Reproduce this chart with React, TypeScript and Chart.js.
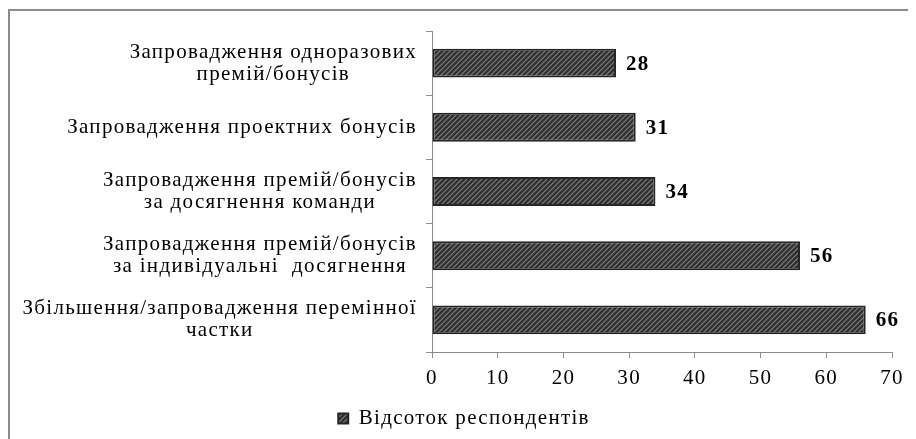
import React, { useEffect, useRef } from "react";
import { Chart, registerables } from "chart.js";

Chart.register(...registerables);

const categoryLines: string[][] = [
  ["Запровадження одноразових", "премій/бонусів"],
  ["Запровадження проектних бонусів"],
  ["Запровадження премій/бонусів", "за досягнення команди"],
  ["Запровадження премій/бонусів", "за індивідуальні  досягнення"],
  ["Збільшення/запровадження перемінної", "частки"],
];
const values: number[] = [28, 31, 34, 56, 66];
const seriesName = "Відсоток респондентів";
const xTicks: number[] = [0, 10, 20, 30, 40, 50, 60, 70];

const FONT = "'Liberation Serif', 'Times New Roman', serif";
const SPACING = "1.3px";
const FS = 21;

function makePattern(): CanvasPattern | string {
  const s = 5;
  const c = document.createElement("canvas");
  c.width = s;
  c.height = s;
  const g = c.getContext("2d");
  if (!g) return "#444";
  g.fillStyle = "#303030";
  g.fillRect(0, 0, s, s);
  g.strokeStyle = "#7e7e7e";
  g.lineWidth = 1.2;
  g.beginPath();
  g.moveTo(-1, s + 1);
  g.lineTo(s + 1, -1);
  g.moveTo(-1, 1);
  g.lineTo(1, -1);
  g.moveTo(s - 1, s + 1);
  g.lineTo(s + 1, s - 1);
  g.stroke();
  const p = g.createPattern(c, "repeat");
  return p || "#444";
}

const spacingPlugin = {
  id: "spacing",
  beforeInit(chart: any) {
    chart.ctx.letterSpacing = SPACING;
  },
  beforeLayout(chart: any) {
    chart.ctx.letterSpacing = SPACING;
  },
  beforeDraw(chart: any) {
    chart.ctx.letterSpacing = SPACING;
  },
};

const labelsPlugin = {
  id: "customLabels",
  afterDraw(chart: any) {
    const ctx = chart.ctx;
    const yScale = chart.scales.y;
    ctx.save();
    ctx.letterSpacing = SPACING;
    ctx.fillStyle = "#000";
    ctx.font = `${FS}px ${FONT}`;
    ctx.textBaseline = "middle";
    ctx.textAlign = "center";
    const lineH = 22;
    const rightEdge = yScale.right - 15;
    categoryLines.forEach((lines, i) => {
      const y = yScale.getPixelForTick(i);
      const w = Math.max(...lines.map((l) => ctx.measureText(l).width));
      const cx = rightEdge - w / 2;
      const y0 = y - ((lines.length - 1) * lineH) / 2;
      lines.forEach((l, j) => ctx.fillText(l, cx, y0 + j * lineH));
    });
    ctx.font = `bold ${FS}px ${FONT}`;
    ctx.textAlign = "left";
    const meta = chart.getDatasetMeta(0);
    meta.data.forEach((bar: any, i: number) => {
      ctx.fillText(String(values[i]), bar.x + 10, bar.y + 1);
    });
    ctx.restore();
  },
};

export default function App() {
  const ref = useRef<HTMLCanvasElement | null>(null);
  useEffect(() => {
    document.body.style.overflow = "hidden";
    if (!ref.current) return;
    const pattern = makePattern();
    const chart = new Chart(ref.current, {
      type: "bar",
      data: {
        labels: categoryLines.map((l) => l.join(" ")),
        datasets: [
          {
            label: seriesName,
            data: values,
            backgroundColor: pattern as any,
            borderColor: "#262626",
            borderWidth: 2,
            borderSkipped: false,
            barPercentage: 0.9,
            categoryPercentage: 0.5,
          },
        ],
      },
      options: {
        indexAxis: "y",
        animation: false,
        responsive: false,
        maintainAspectRatio: false,
        layout: { padding: { top: 20, right: 24, left: 26, bottom: 0 } },
        scales: {
          x: {
            min: 0,
            max: 70,
            afterBuildTicks(scale: any) {
              scale.ticks = xTicks.map((v) => ({ value: v }));
            },
            grid: {
              drawOnChartArea: false,
              drawTicks: true,
              tickLength: 6,
              color: "#8c8c8c",
            },
            border: { color: "#8c8c8c", width: 1 },
            ticks: {
              color: "#000",
              font: { family: FONT, size: FS, lineHeight: 1.0 },
              padding: 10,
            },
          },
          y: {
            afterFit(scale: any) {
              scale.width = 396;
            },
            grid: {
              drawOnChartArea: false,
              drawTicks: true,
              tickLength: 6,
              color: "#8c8c8c",
              offset: true,
            },
            border: { color: "#8c8c8c", width: 1 },
            ticks: { display: false },
          },
        },
        plugins: {
          legend: {
            position: "bottom",
            labels: {
              color: "#000",
              font: { family: FONT, size: FS },
              boxWidth: 10,
              boxHeight: 10,
              padding: 9,
            },
          },
          tooltip: { enabled: false },
        },
      },
      plugins: [spacingPlugin, labelsPlugin],
    });
    return () => chart.destroy();
  }, []);
  return (
    <div
      style={{
        width: 906,
        height: 428,
        borderTop: "2px solid #8c8c8c",
        borderLeft: "2px solid #8c8c8c",
        marginTop: 1,
      }}
    >
      <canvas ref={ref} width={906} height={428} style={{ display: "block" }} />
    </div>
  );
}
